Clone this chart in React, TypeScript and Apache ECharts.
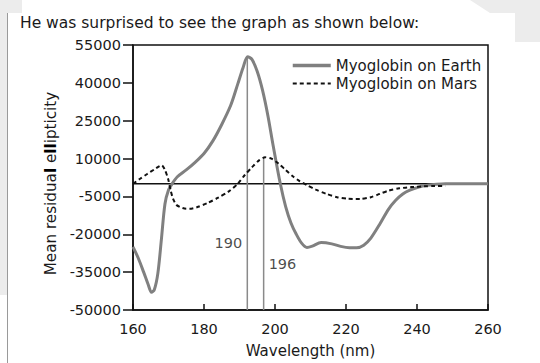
import React, { useEffect, useRef } from "react";
import * as echarts from "echarts";

const FONT = "'DejaVu Sans', Verdana, sans-serif";

const titleText = "He was surprised to see the graph as shown below:";
const xAxisName = "Wavelength (nm)";
const seriesNames = ["Myoglobin on Earth", "Myoglobin on Mars"];

// Earth (solid grey) : [wavelength nm, mean residual ellipticity]
const earthData: [number, number][] = [
  [160, -25000], [161.5, -29500], [163, -35000], [164.3, -40000], [165.2, -43000],
  [166, -42000], [167, -35500], [168, -22000], [169, -8000], [170, -2500],
  [171, 0], [172.5, 2800], [175, 5500], [177.5, 8500], [180, 12000],
  [182.5, 17000], [185, 23500], [187.5, 31000], [189.5, 39500], [191, 46000],
  [192.3, 50300], [193.5, 49300], [195, 44500], [196.5, 37000], [198, 27000],
  [199.5, 15000], [201.5, 0], [203, -9000], [204.5, -15500], [206, -20000],
  [207.5, -23500], [209, -25200], [210.5, -24700], [213, -23300], [216, -23800],
  [218.5, -24800], [221, -25300], [223, -25300], [225, -24300], [227, -21500],
  [229.5, -16000], [232, -10000], [234, -6500], [236, -4000], [238, -2500],
  [240.5, -1300], [243, -600], [245.5, -200], [248, 0], [252, 0], [256, 0], [260, 0],
];

// Mars (dashed black)
const marsData: [number, number][] = [
  [160, 0], [162, 2000], [164, 3900], [166, 5700], [167.3, 6900], [168.1, 7400],
  [169, 5500], [169.9, 1900], [170.6, -2500], [171.3, -6000], [172.2, -8300],
  [173.2, -9200], [174.5, -9800], [176, -9900], [178, -9300], [181, -7600],
  [184, -5500], [187, -3000], [189.5, 0], [191.5, 3500], [193.5, 6500],
  [195.5, 9300], [197.2, 10500], [199, 10000], [201, 8000], [203, 5500],
  [205, 3000], [207, 1000], [209, -500], [211.5, -2300], [214.5, -4000],
  [217.5, -5300], [220.5, -5900], [224, -6000], [227, -5300], [229.5, -4000],
  [232, -2700], [235, -1800], [238.5, -1300], [242, -1000], [245, -900], [248, -900],
];

// zero reference line
const zeroLine: [number, number][] = [[160, 0], [245, 0]];

// vertical marker lines
const markerX = [192.2, 196.8];
const markerTop = [50300, 10500];
const markerBottom = -50000;
const markerLabels = ["190", "196"];
const markerLabelY = [-23300, -31900];

const yMin = -50000;
const yMax = 55000;
const yStep = 15000;
const xMin = 160;
const xMax = 260;
const xStep = 20;

export default function App() {
  const ref = useRef<HTMLDivElement>(null);

  useEffect(() => {
    if (!ref.current) return;
    const chart = echarts.init(ref.current, undefined, { renderer: "svg" });

    const markerSeries = markerX.map((x, i) => ({
      type: "line",
      name: "marker" + i,
      data: [[x, markerBottom], [x, markerTop[i]]],
      symbol: "none",
      silent: true,
      z: 3,
      lineStyle: { color: "#8a8a8a", width: 1.5 },
    }));

    const option: any = {
      animation: false,
      backgroundColor: "#ffffff",
      textStyle: { fontFamily: FONT },
      graphic: [
        { type: "rect", z: -10, shape: { x: 0, y: 0, width: 7, height: 295 }, style: { fill: "#ececec" } },
        { type: "rect", z: -10, shape: { x: 0, y: 0, width: 22, height: 13 }, style: { fill: "#ececec" } },
        { type: "polygon", z: -10, shape: { points: [[470, 0], [540, 0], [540, 42], [515, 42], [515, 13], [490, 13]] }, style: { fill: "#ececec" } },
        { type: "line", z: -5, shape: { x1: 7.5, y1: 13, x2: 7.5, y2: 363 }, style: { stroke: "#9a9a9a", lineWidth: 1 } },
        {
          type: "text",
          x: 20,
          y: 23,
          style: {
            text: titleText,
            font: `15.5px ${FONT}`,
            fill: "#1a1a1a",
            verticalAlign: "middle",
          },
        },
      ],
      grid: {
        left: 133,
        right: 52,
        top: 45,
        bottom: 51,
        show: true,
        borderColor: "#111",
        borderWidth: 1.5,
        backgroundColor: "transparent",
      },
      legend: {
        data: [
          { name: seriesNames[0], lineStyle: { width: 3.5, color: "#808080" } },
          { name: seriesNames[1], lineStyle: { width: 2, color: "#111" } },
        ],
        orient: "vertical",
        left: 286,
        top: 53,
        itemWidth: 38,
        itemHeight: 14,
        itemGap: 3,
        itemStyle: { opacity: 0 },
        textStyle: { fontFamily: FONT, fontSize: 15, color: "#1a1a1a" },
      },
      xAxis: {
        type: "value",
        min: xMin,
        max: xMax,
        interval: xStep,
        name: xAxisName,
        nameLocation: "middle",
        nameGap: 33,
        nameTextStyle: { fontFamily: FONT, fontSize: 15, color: "#1a1a1a" },
        axisLine: { onZero: false, lineStyle: { color: "#111", width: 1.5 } },
        axisTick: { inside: true, length: 6, lineStyle: { color: "#111", width: 1.5 } },
        axisLabel: { fontFamily: FONT, fontSize: 14.5, color: "#1a1a1a", margin: 11 },
        splitLine: { show: false },
      },
      yAxis: {
        type: "value",
        min: yMin,
        max: yMax,
        interval: yStep,
        name: "{n|Mean residua}{b|l}{n| e}{b|ll}{n|ipticity}{s|}",
        nameLocation: "middle",
        nameGap: 74,
        nameTextStyle: {
          fontFamily: FONT,
          fontSize: 15.2,
          color: "#1a1a1a",
          rich: {
            n: { fontFamily: FONT, fontSize: 15.2, color: "#1a1a1a" },
            b: { fontFamily: FONT, fontSize: 15.2, color: "#000", fontWeight: "bold" },
            s: { width: 12, fontSize: 15.2 },
          },
        },
        axisLine: { show: true, onZero: false, lineStyle: { color: "#111", width: 1.5 } },
        axisTick: { show: true, inside: false, length: 10, lineStyle: { color: "#111", width: 1.5 } },
        axisLabel: {
          fontFamily: FONT,
          fontSize: 14.5,
          color: "#1a1a1a",
          margin: 12,
          formatter: (v: number) => String(v),
        },
        splitLine: { show: false },
      },
      series: [
        {
          type: "line",
          name: "zero",
          data: zeroLine,
          symbol: "none",
          silent: true,
          z: 2,
          lineStyle: { color: "#111", width: 1.5 },
        },
        ...markerSeries,
        {
          type: "line",
          name: seriesNames[0],
          data: earthData,
          symbol: "none",
          smooth: 0.3,
          z: 4,
          color: "#808080",
          lineStyle: { color: "#808080", width: 3 },
        },
        {
          type: "line",
          name: seriesNames[1],
          data: marsData,
          symbol: "none",
          smooth: 0.25,
          z: 5,
          color: "#111",
          lineStyle: { color: "#111", width: 2, type: [4, 3] },
        },
        {
          type: "scatter",
          name: "labels",
          symbolSize: 0,
          silent: true,
          z: 6,
          data: markerX.map((x, i) => ({
            value: [x, markerLabelY[i]],
            label: {
              show: true,
              formatter: markerLabels[i],
              position: i === 0 ? "left" : "right",
              distance: 5,
              fontFamily: FONT,
              fontSize: 14.5,
              color: "#1a1a1a",
            },
          })),
        },
      ],
    };

    chart.setOption(option);
    return () => chart.dispose();
  }, []);

  return (
    <div
      ref={ref}
      style={{ position: "fixed", left: 0, top: 0, width: 540, height: 363, background: "#fff" }}
    />
  );
}
